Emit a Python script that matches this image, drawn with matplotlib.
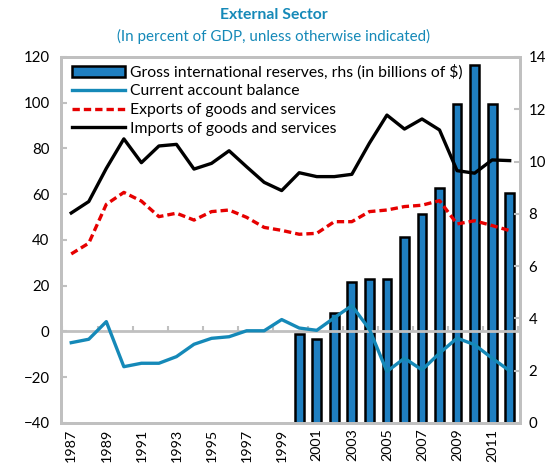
import numpy as np
import matplotlib.pyplot as plt

plt.rcParams['font.family'] = ['Lato', 'DejaVu Sans']

years = list(range(1987, 2013))

# billions of $, right axis (no data before 2000)
reserves = [np.nan] * 13 + [3.4, 3.2, 4.2, 5.4, 5.5, 5.5, 7.1, 8.0, 9.0, 12.2, 13.7, 12.2, 8.8]

current_account = [-4.9, -3.4, 4.3, -15.4, -13.9, -13.9, -11.0, -5.6, -3.0, -2.3, 0.3, 0.3, 5.2,
                   1.5, 0.5, 6.0, 11.3, 1.0, -17.5, -11.7, -16.8, -9.5, -2.9, -5.8, -11.7, -17.2]

exports = [33.9, 38.6, 55.6, 60.8, 57.0, 50.2, 51.7, 48.7, 52.4, 53.1, 49.9, 45.5, 44.2,
           42.5, 42.9, 48.0, 48.0, 52.4, 53.1, 54.6, 55.2, 57.2, 47.0, 48.4, 46.3, 44.1]

imports = [51.8, 56.8, 71.3, 84.2, 73.8, 81.1, 81.8, 71.0, 73.5, 79.0, 72.0, 65.2, 61.6,
           69.4, 67.7, 67.7, 68.7, 82.3, 94.6, 88.5, 92.9, 88.1, 70.3, 69.2, 75.0, 74.7]

teal = '#1589b8'
grey = '#c0c0c0'

x = np.arange(len(years))

fig = plt.figure(figsize=(5.47, 4.71), dpi=100)
ax = fig.add_axes([0.111, 0.102, 0.840, 0.777])
ax2 = ax.twinx()

bars = ax2.bar(x, reserves, width=0.5, color='#1f7fc1', edgecolor='black', linewidth=1.8,
               label='Gross international reserves, rhs (in billions of $)')
ax2.set_ylim(0, 14)
ax2.set_yticks(range(0, 15, 2))

ax.set_zorder(ax2.get_zorder() + 1)
ax.patch.set_visible(False)

ax.axhline(0, color=grey, lw=2, zorder=1)
ax.vlines(np.arange(-0.5, len(years), 2), 0, 2.2, color=grey, lw=1.5, zorder=1)

l1, = ax.plot(x, current_account, color=teal, lw=2.4, label='Current account balance', zorder=3)
l2, = ax.plot(x, exports, color='#e60000', lw=2.4, ls=(0, (2.2, 1.2)),
              label='Exports of goods and services', zorder=3)
l3, = ax.plot(x, imports, color='black', lw=2.4, label='Imports of goods and services', zorder=3)

ax.set_xlim(-0.6, len(years) - 0.4)
ax.set_ylim(-40, 120)
ax.set_yticks(range(-40, 121, 20))
ax.set_xticks(x[::2])
ax.set_xticklabels([str(y) for y in years[::2]], rotation=90)

for a in (ax, ax2):
    for s in a.spines.values():
        s.set_color(grey)
        s.set_linewidth(2)
ax.tick_params(axis='y', direction='in', length=4, color=grey, width=1.5, labelsize=10.8, pad=8)
ax2.tick_params(axis='y', direction='in', length=4, color=grey, width=1.5, labelsize=10.8, pad=6)
ax.tick_params(axis='x', length=0, labelsize=10.3, pad=4)

leg = ax.legend([bars, l1, l2, l3], [h.get_label() for h in (bars, l1, l2, l3)],
                loc='upper left', bbox_to_anchor=(0.0, 1.01), frameon=False,
                fontsize=11.3, handlelength=3.4, handletextpad=0.3, labelspacing=0.3,
                borderaxespad=0.3)

fig.text(0.5, 0.968, 'External Sector', ha='center', va='center', color=teal,
         fontsize=11.3, fontweight='bold')
fig.text(0.5, 0.922, '(In percent of GDP, unless otherwise indicated)', ha='center',
         va='center', color=teal, fontsize=10.9)

fig.savefig('out.png', dpi=100)
